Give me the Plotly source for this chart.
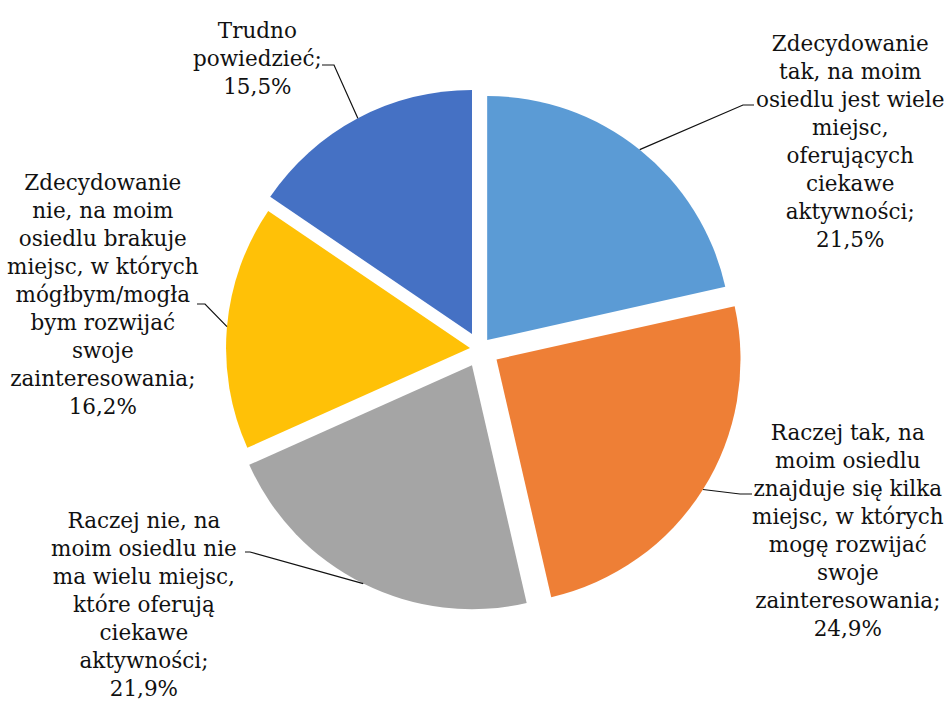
import math
import plotly.graph_objects as go

# --- data -------------------------------------------------------------------
categories = [
    "Zdecydowanie tak, na moim osiedlu jest wiele miejsc, oferujących ciekawe aktywności",
    "Raczej tak, na moim osiedlu znajduje się kilka miejsc, w których mogę rozwijać swoje zainteresowania",
    "Raczej nie, na moim osiedlu nie ma wielu miejsc, które oferują ciekawe aktywności",
    "Zdecydowanie nie, na moim osiedlu brakuje miejsc, w których mógłbym/mogła bym rozwijać swoje zainteresowania",
    "Trudno powiedzieć",
]
values = [21.5, 24.9, 21.9, 16.2, 15.5]

# wrapped label lines (category part only; the percentage is appended from values)
label_lines = [
    ["Zdecydowanie", "tak, na moim", "osiedlu jest wiele", "miejsc,", "oferujących", "ciekawe", "aktywności;"],
    ["Raczej tak, na", "moim osiedlu", "znajduje się kilka", "miejsc, w których", "mogę rozwijać", "swoje", "zainteresowania;"],
    ["Raczej nie, na", "moim osiedlu nie", "ma wielu miejsc,", "które oferują", "ciekawe", "aktywności;"],
    ["Zdecydowanie", "nie, na moim", "osiedlu brakuje", "miejsc, w których", "mógłbym/mogła", "bym rozwijać", "swoje", "zainteresowania;"],
    ["Trudno", "powiedzieć;"],
]

# --- styling ------------------------------------------------------------------
colors = ["#5B9BD5", "#EE7F36", "#A5A5A5", "#FFC107", "#4571C4"]
pulls = [0.047, 0.08, 0.074, 0.041, 0.07]

W, H = 947, 704
PIE_CX, PIE_CY, PIE_R = 480, 349, 244          # pixel centre / radius of the pie
FONT = dict(family="DejaVu Serif", size=21.5, color="#111111")

# label block centres (pixels) and leader-line elbows (pixels)
label_pos = [(850, 142), (848, 530), (144, 604), (103, 295), (257, 58)]
leader_elbows = [
    [(743, 105), (754, 105)],
    [(740, 494), (752, 494)],
    [(250, 552), (245, 552)],
    [(205, 304), (197, 304)],
    [(334, 65), (322, 65)],
]


def to_paper(px, py):
    return px / W, 1 - py / H


half_box = PIE_R * (1 + max(pulls))
dom_x = [(PIE_CX - half_box) / W, (PIE_CX + half_box) / W]
dom_y = [(H - PIE_CY - half_box) / H, (H - PIE_CY + half_box) / H]

fig = go.Figure(
    go.Pie(
        labels=categories,
        values=values,
        sort=False,
        direction="clockwise",
        rotation=0,
        pull=pulls,
        marker=dict(colors=colors, line=dict(width=0)),
        textinfo="none",
        hoverinfo="label+percent",
        showlegend=False,
        domain=dict(x=dom_x, y=dom_y),
    )
)

# labels and leader lines, anchored on the outer arc at each slice's mid-angle
total = sum(values)
cum = 0.0
annotations = []
shapes = []
for i, v in enumerate(values):
    mid = (cum + v / 2) / total * 2 * math.pi
    cum += v
    dx, dy = math.sin(mid), -math.cos(mid)
    reach = PIE_R * (1 + pulls[i])
    ax, ay = PIE_CX + reach * dx, PIE_CY + reach * dy

    pct = f"{v:.1f}".replace(".", ",") + "%"
    text = "<br>".join(label_lines[i] + [pct])
    lx, ly = to_paper(*label_pos[i])
    annotations.append(dict(
        x=lx, y=ly, xref="paper", yref="paper",
        text=text, showarrow=False, align="center",
        xanchor="center", yanchor="middle", font=FONT,
    ))

    pts = [(ax, ay)] + leader_elbows[i]
    path = " ".join(
        ("M" if k == 0 else "L") + f"{to_paper(x, y)[0]:.5f},{to_paper(x, y)[1]:.5f}"
        for k, (x, y) in enumerate(pts)
    )
    shapes.append(dict(type="path", xref="paper", yref="paper", path=path,
                       line=dict(color="#111111", width=1.2)))

fig.update_layout(
    width=W, height=H,
    margin=dict(l=0, r=0, t=0, b=0),
    paper_bgcolor="white",
    plot_bgcolor="white",
    annotations=annotations,
    shapes=shapes,
)

fig.write_html("out.html")
